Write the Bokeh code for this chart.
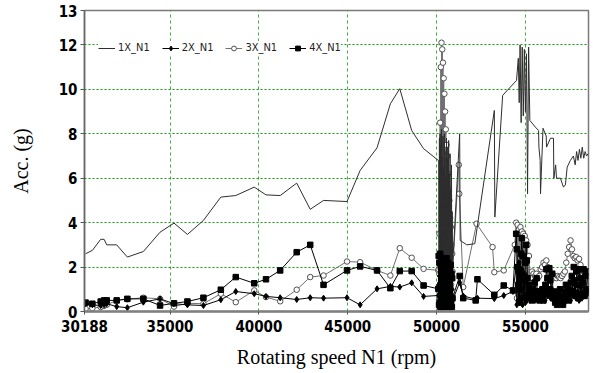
from bokeh.plotting import figure
from bokeh.models import Range1d, FixedTicker, CustomJSTickFormatter, Legend, LegendItem
from bokeh.embed import file_html
from bokeh.resources import INLINE

# ---------------- data ----------------
# sparse part, shared speeds
xs = [30250, 30630, 31100, 31290, 31440, 32000, 32600, 33500, 34440, 35225,
      35980, 36880, 37860, 38700, 39740, 40400, 41200, 42130, 42890, 43640,
      44960, 45700, 46650, 47400, 47930, 48600, 49270, 50100]
one_a = [2.6, 2.75, 3.25, 3.25, 3.0, 3.0, 2.45, 2.7, 3.57, 3.98, 3.47, 4.1, 5.15, 5.22,
         5.6, 5.25, 5.22, 5.78, 4.6, 5.0, 4.95, 6.35, 7.37, 9.35, 10.03, 8.15, 7.33, 6.8]
two_a = [0.35, 0.3, 0.27, 0.3, 0.35, 0.22, 0.17, 0.42, 0.57, 0.35, 0.3, 0.27, 0.53, 0.9,
         0.8, 0.68, 0.62, 0.54, 0.62, 0.6, 0.62, 0.3, 1.02, 1.13, 1.1, 1.29, 0.68, 0.72]
three_a = [0.12, 0.15, 0.2, 0.25, 0.3, 0.5, 0.55, 0.62, 0.57, 0.22, 0.37, 0.35, 0.8, 0.42,
           0.95, 0.65, 0.46, 0.98, 1.55, 1.62, 2.25, 2.22, 1.85, 1.62, 2.85, 2.42, 1.92, 1.85]
four_a = [0.4, 0.35, 0.45, 0.5, 0.5, 0.5, 0.57, 0.57, 0.27, 0.37, 0.45, 0.62, 0.98, 1.55,
          1.27, 1.45, 1.85, 2.67, 3.0, 1.2, 1.85, 2.03, 1.85, 1.05, 1.82, 1.82, 1.17, 1.02]

# first dense burst (~50100-50900 rpm)
c1x = [50120, 50140, 50160, 50180, 50200, 50220, 50240, 50260, 50280, 50300,
       50320, 50340, 50360, 50380, 50400, 50420, 50440, 50460, 50480, 50500,
       50520, 50540, 50560, 50580, 50600, 50620, 50640, 50660, 50680, 50700,
       50720, 50740, 50760, 50780, 50800, 50820, 50840, 50860, 50880, 50900]
one_c1 = [6.8, 0.5, 7.8, 1.0, 8.0, 0.4, 7.5, 1.5, 8.2, 0.8,
          7.0, 0.3, 7.9, 1.2, 6.5, 0.6, 8.0, 1.0, 7.2, 0.5,
          6.0, 1.5, 7.8, 0.7, 7.4, 0.4, 6.9, 1.1, 7.7, 0.6,
          6.2, 0.9, 7.1, 0.5, 5.5, 1.3, 6.6, 0.8, 4.5, 2.0]
two_c1 = [1.2, 0.2, 1.6, 0.3, 1.3, 0.2, 1.7, 0.4, 1.4, 0.2,
          1.8, 0.3, 1.5, 0.2, 1.2, 0.4, 1.6, 0.3, 1.1, 0.2,
          1.4, 0.3, 1.0, 0.5, 1.5, 0.2, 1.3, 0.4, 1.7, 0.3,
          1.2, 0.2, 1.5, 0.4, 1.1, 0.3, 1.4, 0.2, 1.0, 0.5]
three_c1 = [1.9, 0.5, 3.5, 1.2, 8.5, 0.8, 11.0, 1.5, 12.1, 0.6,
            11.8, 2.0, 11.2, 1.0, 10.5, 0.7, 9.8, 1.8, 9.0, 0.9,
            8.2, 1.4, 7.5, 0.8, 7.0, 2.5, 6.2, 1.0, 5.5, 0.6,
            5.0, 1.6, 4.2, 0.8, 3.8, 1.2, 3.0, 0.7, 2.6, 1.8]
four_c1 = [2.5, 0.3, 2.2, 0.4, 2.6, 0.2, 2.0, 0.5, 2.4, 0.3,
           1.9, 0.4, 2.3, 0.2, 1.8, 0.5, 2.1, 0.3, 1.7, 0.4,
           2.0, 0.3, 2.4, 0.5, 1.9, 0.2, 2.2, 0.4, 1.6, 0.3,
           2.0, 0.5, 1.8, 0.3, 2.1, 0.4, 1.7, 0.2, 1.5, 0.6]

# between the bursts
one_mx = [51300, 51330, 51700, 52150, 53250, 53280, 53720, 54150, 54500]
one_m = [8.0, 3.2, 3.0, 3.05, 9.05, 4.25, 9.73, 10.1, 10.4]
two_mx = [51300, 51500, 52200, 52300, 53250, 53780, 54300]
two_m = [1.3, 0.7, 0.55, 0.6, 0.58, 0.72, 0.9]
three_mx = [51250, 51280, 51500, 52250, 53150, 53250, 53780, 54400]
three_m = [6.6, 5.3, 1.1, 3.95, 2.9, 1.77, 1.85, 3.0]
four_mx = [51300, 51500, 52200, 52300, 53250, 53780, 54300]
four_m = [1.6, 0.6, 0.5, 1.45, 0.75, 1.17, 0.95]

# second burst (~54500-55250 rpm)
one_c2x = [54600, 54650, 54700, 54760, 54820, 54880, 54940, 55000, 55060, 55120, 55180]
one_c2 = [11.4, 9.4, 12.0, 8.5, 11.9, 8.8, 11.8, 9.0, 11.6, 5.3, 11.9]
c2x = [54480, 54520, 54560, 54600, 54640, 54680, 54720, 54760, 54800, 54840,
       54880, 54920, 54960, 55000, 55040, 55080, 55120, 55160, 55200, 55240]
two_c2 = [2.0, 0.3, 1.8, 0.5, 2.2, 0.4, 1.6, 0.6, 1.9, 0.3,
          1.5, 0.6, 1.7, 0.4, 1.4, 0.5, 1.2, 0.7, 1.0, 0.6]
three_c2 = [4.0, 0.6, 3.9, 0.8, 3.7, 0.5, 3.8, 1.0, 3.6, 0.7,
            3.5, 0.9, 3.4, 0.6, 3.2, 1.2, 3.0, 0.8, 2.5, 1.5]
four_c2 = [3.5, 2.8, 2.0, 1.2, 0.4, 1.0, 1.8, 2.6, 3.3, 2.5,
           1.6, 0.6, 1.4, 2.2, 3.0, 2.3, 1.5, 0.7, 1.2, 0.9]

# tail (>55250 rpm)
one_tx = [55250, 55560, 55740, 55760, 55830, 55850, 55990, 56170, 56190, 56410,
          56580, 56600, 56700, 56750, 56970, 57140, 57250, 57350, 57530, 57700,
          57800, 57880, 57960, 58040, 58120, 58200, 58280, 58360, 58440, 58520]
one_t = [8.6, 8.3, 8.15, 7.4, 6.8, 5.3, 8.25, 7.9, 7.4, 7.8,
         7.8, 6.0, 6.6, 6.0, 6.0, 5.6, 5.7, 6.5, 6.8, 7.0,
         6.6, 7.2, 6.8, 7.3, 6.9, 7.4, 6.9, 7.2, 7.0, 7.1]
c3x = [55300, 55380, 55460, 55540, 55620, 55700, 55780, 55860, 55940, 56020,
       56100, 56180, 56260, 56340, 56420, 56500, 56580, 56660, 56740, 56820,
       56900, 56980, 57060, 57140, 57220, 57300, 57380, 57460, 57540, 57620,
       57700, 57780, 57860, 57940, 58020, 58100, 58180, 58260, 58340, 58420, 58500]
two_c3 = [0.7, 0.6, 0.8, 0.5, 0.9, 0.6, 0.7, 1.0, 0.6, 0.8,
          0.5, 1.1, 0.7, 0.9, 0.6, 1.0, 0.5, 0.8, 0.6, 0.7,
          0.4, 0.6, 0.5, 0.8, 0.4, 0.9, 0.6, 0.7, 0.5, 1.0,
          0.7, 1.2, 0.6, 0.9, 0.5, 1.1, 0.6, 1.3, 0.7, 1.0, 0.8]
three_c3 = [1.5, 1.8, 1.7, 1.6, 1.7, 1.5, 1.6, 1.9, 2.0, 2.2,
            2.1, 2.3, 2.0, 1.8, 1.7, 1.6, 1.5, 1.6, 1.5, 1.6,
            1.55, 1.5, 1.6, 1.7, 1.8, 2.2, 2.6, 2.9, 3.2, 2.8,
            2.5, 2.4, 2.45, 2.3, 2.37, 2.1, 1.9, 1.8, 1.85, 1.7, 1.8]
four_c3x = [55300, 55355, 55410, 55465, 55520, 55575, 55630, 55685, 55740, 55795,
            55850, 55905, 55960, 56015, 56070, 56125, 56180, 56235, 56290, 56345,
            56400, 56455, 56510, 56565, 56620, 56675, 56730, 56785, 56840, 56895,
            56950, 57005, 57060, 57115, 57170, 57225, 57280, 57335, 57390, 57445,
            57500, 57555, 57610, 57665, 57720, 57775, 57830, 57885, 57940, 57995,
            58050, 58105, 58160, 58215, 58270, 58325, 58380, 58435, 58490, 58545]
four_c3 = [0.8, 0.5, 1.0, 0.6, 1.3, 0.9, 1.5, 0.6,
           0.9, 0.5, 0.8, 0.6, 1.0, 0.5, 0.8,
           1.2, 1.9, 1.5, 1.0, 1.95, 1.4, 0.8, 1.7, 0.6,
           0.9, 0.4, 0.7, 0.3, 0.8, 0.5, 1.0, 0.4, 0.7, 0.3, 0.6,
           0.9, 1.2, 0.6, 1.0, 0.5, 0.8, 1.3,
           1.6, 0.9, 2.0, 1.4, 0.7, 1.8, 1.2, 0.6, 1.9, 1.5, 0.8, 1.3, 1.9, 0.7, 1.6, 1.0, 1.8, 0.9]

x_ticks = [30188, 35000, 40000, 45000, 50000, 55000]
y_ticks = [0, 2, 4, 6, 8, 10, 12]
y_top_label = "13"
series_names = ["1X_N1", "2X_N1", "3X_N1", "4X_N1"]

# assemble series
x1 = xs + c1x + one_mx + one_c2x + one_tx
y1 = one_a + one_c1 + one_m + one_c2 + one_t
x2 = xs + c1x + two_mx + c2x + c3x
y2 = two_a + two_c1 + two_m + two_c2 + two_c3
x3 = xs + c1x + three_mx + c2x + c3x
y3 = three_a + three_c1 + three_m + three_c2 + three_c3
x4 = xs + c1x + four_mx + c2x + four_c3x
y4 = four_a + four_c1 + four_m + four_c2 + four_c3

# ---------------- figure ----------------
Y_TOP = 13.55
p = figure(width=593, height=373, output_backend="svg", toolbar_location=None,
           x_range=Range1d(30188, 58550), y_range=Range1d(0, Y_TOP),
           min_border_left=84, min_border_right=5, min_border_top=10, min_border_bottom=62)
p.background_fill_color = "white"
p.border_fill_color = "white"
p.outline_line_color = "#7a7a7a"
p.outline_line_width = 1.5

tick_font = "Liberation Sans Narrow, DejaVu Sans Condensed, Liberation Sans, sans-serif"
p.xaxis.ticker = FixedTicker(ticks=x_ticks)
p.xaxis.formatter = CustomJSTickFormatter(code="return tick.toFixed(0);")
p.yaxis.ticker = FixedTicker(ticks=y_ticks + [Y_TOP])
p.yaxis.formatter = CustomJSTickFormatter(
    args=dict(top=Y_TOP, lab=y_top_label),
    code="return (tick >= top - 0.01) ? lab : tick.toFixed(0);")

for ax in (p.xaxis[0], p.yaxis[0]):
    ax.major_label_text_font = tick_font
    ax.major_label_text_font_style = "bold"
    ax.major_label_text_font_size = "15px"
    ax.major_label_text_color = "black"
    ax.minor_tick_line_color = None
    ax.major_tick_line_color = "#555555"
    ax.major_tick_in = 0
    ax.axis_label_text_font = "Liberation Serif"
    ax.axis_label_text_font_style = "normal"
    ax.axis_label_text_font_size = "20px"
    ax.axis_label_text_color = "black"

p.xaxis.axis_label = "Rotating speed N1 (rpm)"
p.yaxis.axis_label = "Acc. (g)"
p.xaxis.axis_line_color = "#808080"
p.xaxis.axis_line_width = 2.5
p.xaxis.major_tick_out = 3
p.xaxis.major_label_standoff = 5
p.xaxis.axis_label_standoff = 11
p.yaxis.axis_line_color = "#666666"
p.yaxis.axis_line_width = 1.5
p.yaxis.major_tick_out = 4
p.yaxis.major_label_standoff = 3
p.yaxis.axis_label_standoff = 24

p.xgrid.ticker = FixedTicker(ticks=x_ticks[1:])
p.xgrid.grid_line_color = "#3fae3f"
p.xgrid.grid_line_dash = "3 3"
p.xgrid.grid_line_width = 1
p.ygrid.ticker = FixedTicker(ticks=y_ticks[1:])
p.ygrid.grid_line_color = "#139a13"
p.ygrid.grid_line_dash = "2 2"
p.ygrid.grid_line_width = 1

# drawing order: 3X underneath so the bursts read black as in the original
r3l = p.line(x3, y3, line_color="#707070", line_width=1)
r3m = p.scatter(x3, y3, marker="circle", size=5.5, line_color="#505050",
                fill_color="white", line_width=1)
r1 = p.line(x1, y1, line_color="#2e2e2e", line_width=1)
r2l = p.line(x2, y2, line_color="black", line_width=1)
r2m = p.scatter(x2, y2, marker="diamond", size=6, color="black")
r4l = p.line(x4, y4, line_color="black", line_width=1)
r4m = p.scatter(x4, y4, marker="square", size=5.5, color="black")

legend = Legend(items=[
    LegendItem(label=series_names[0], renderers=[r1]),
    LegendItem(label=series_names[1], renderers=[r2l, r2m]),
    LegendItem(label=series_names[2], renderers=[r3l, r3m]),
    LegendItem(label=series_names[3], renderers=[r4l, r4m]),
], orientation="horizontal", location=(14, 257))
legend.label_text_font = tick_font
legend.label_text_font_size = "11px"
legend.label_text_color = "#222222"
legend.glyph_width = 17
legend.glyph_height = 12
legend.label_height = 12
legend.label_standoff = 3
legend.spacing = 12
legend.padding = 4
legend.margin = 0
legend.border_line_color = None
legend.background_fill_color = "white"
legend.background_fill_alpha = 1
p.add_layout(legend)

open("out.html", "w").write(file_html(p, INLINE))
